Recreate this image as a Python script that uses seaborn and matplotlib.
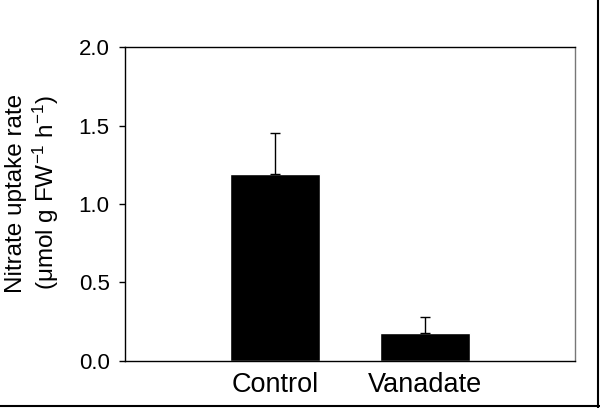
import numpy as np
import pandas as pd
import matplotlib
matplotlib.use('Agg')
import matplotlib.pyplot as plt
from matplotlib.lines import Line2D
import seaborn as sns

# values
treatments = ['Control', 'Vanadate']
uptake_rate = [1.19, 0.18]
uptake_se = [0.26, 0.10]
y_ticks = [0.0, 0.5, 1.0, 1.5, 2.0]

sns.set_style('ticks')
plt.rcParams['font.family'] = ['Liberation Sans', 'DejaVu Sans']
plt.rcParams['mathtext.fontset'] = 'custom'
plt.rcParams['mathtext.rm'] = 'Liberation Sans'
plt.rcParams['mathtext.default'] = 'regular'
for key in ['text.color', 'axes.labelcolor', 'xtick.color', 'ytick.color']:
    plt.rcParams[key] = 'black'

df = pd.DataFrame({'treatment': treatments, 'rate': uptake_rate, 'se': uptake_se})

fig = plt.figure(figsize=(6, 4.08), dpi=100)
ax = fig.add_axes([0.2083, 0.1152, 0.75, 0.7696])

sns.barplot(data=df, x='treatment', y='rate', color='black', saturation=1,
            width=0.6, ax=ax, errorbar=None)
# only the upper half of the error bar is drawn
ax.errorbar(np.arange(len(df)), df['rate'], yerr=[np.zeros(len(df)), df['se']],
            fmt='none', ecolor='black', elinewidth=1, capsize=3.5, capthick=1)

ax.set_xlim(-1, 2)
ax.set_ylim(0, 2.0)
ax.set_yticks(y_ticks)
ax.set_yticklabels([f'{t:.1f}' for t in y_ticks])
ax.set_xlabel('')
ax.set_ylabel('Nitrate uptake rate\n(μmol g FW$^{-1}$ h$^{-1}$)', fontsize=17.5,
              linespacing=1.15)
ax.yaxis.set_label_coords(-0.142, 0.535)

ax.tick_params(axis='y', direction='out', length=4, width=1, labelsize=16, pad=7)
ax.tick_params(axis='x', length=0, labelsize=19.5, pad=8)

for side in ['left', 'bottom', 'top']:
    ax.spines[side].set_color('black')
    ax.spines[side].set_linewidth(1)
ax.spines['right'].set_color('#777777')
ax.spines['right'].set_linewidth(1)

# frame lines along the picture's right and bottom edges
fig.add_artist(Line2D([0, 1], [0.004, 0.004], transform=fig.transFigure, color='black', lw=1.5))
fig.add_artist(Line2D([0.996, 0.996], [0, 1], transform=fig.transFigure, color='black', lw=1.5))

fig.savefig('out.png', dpi=100)
